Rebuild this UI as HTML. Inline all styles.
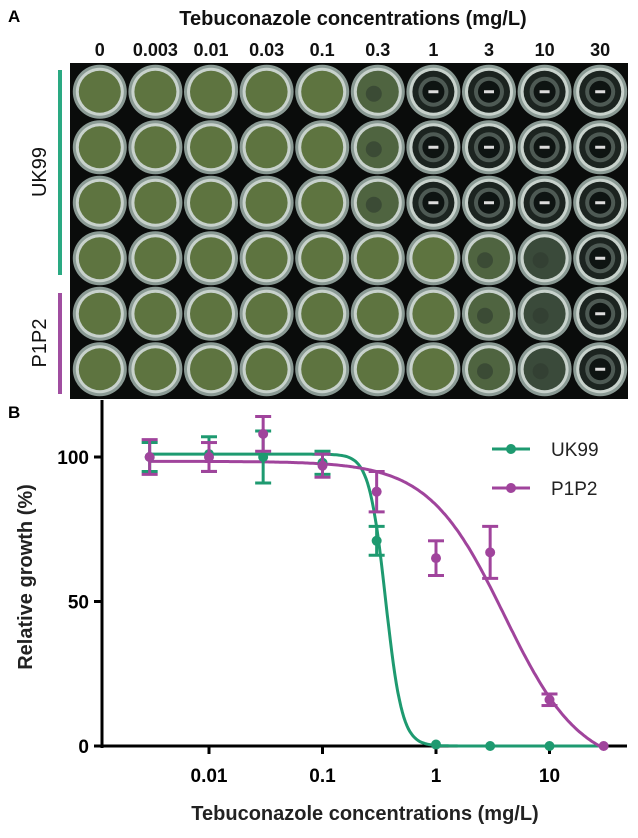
<!DOCTYPE html>
<html><head><meta charset="utf-8"><style>
html,body{margin:0;padding:0;background:#fff;}
svg{display:block;font-family:"Liberation Sans",Arial,sans-serif;}
</style></head><body>
<svg id="fig" width="638" height="838" viewBox="0 0 638 838" xmlns="http://www.w3.org/2000/svg">
<text x="8" y="22" font-size="17" font-weight="bold">A</text>
<text x="353" y="25" font-size="20" font-weight="bold" text-anchor="middle" fill="#111">Tebuconazole concentrations (mg/L)</text>
<g id="collabels"></g>
<rect x="70" y="63" width="558" height="336" fill="#0a0c0b"/>
<g id="wells"></g>
<rect x="58" y="70" width="4" height="205" fill="#2aa982"/>
<rect x="58" y="293" width="4" height="101" fill="#a04ea0"/>
<text transform="translate(46,172) rotate(-90)" font-size="20" text-anchor="middle" fill="#111">UK99</text>
<text transform="translate(46,343) rotate(-90)" font-size="20" text-anchor="middle" fill="#111">P1P2</text>

<text x="8" y="418" font-size="17" font-weight="bold">B</text>
<g id="chart"></g>
</svg>
<script>
const colLabels=["0","0.003","0.01","0.03","0.1","0.3","1","3","10","30"];
const uk99Growth=["g","g","g","g","g","m","c","c","c","c"];
const p1p2Growth=["g","g","g","g","g","g","g","m","p","c"];

const conc=[0.003,0.01,0.03,0.1,0.3,1,3,10,30];
const ukMean=[100,101,100,98,71,0.5,0,0];
const ukErr=[5,6,9,4,5,0,0,0];
const pMean=[100,100,108,97,88,65,67,16,0];
const pErr=[6,5,6,4,7,6,9,2,0];
const ukFit={top:101,bottom:0,ic50:0.36,hill:6};
const pFit={top:98.5,bottom:-8,ic50:4,hill:1.3};
const yTicks=[0,50,100];
const xTicks=[0.01,0.1,1,10];
const xTickLabels=["0.01","0.1","1","10"];

const NS="http://www.w3.org/2000/svg";
function mk(tag,attrs,parent){const e=document.createElementNS(NS,tag);for(const k in attrs)e.setAttribute(k,attrs[k]);parent.appendChild(e);return e;}

const cl=document.getElementById('collabels');
const wells=document.getElementById('wells');
const px0=72,pdx=55.6,py0=64,pdy=55.5;
colLabels.forEach((l,i)=>{const t=mk('text',{x:px0+pdx*(i+0.5),y:56,'font-size':18,'font-weight':'bold','text-anchor':'middle',fill:'#111'},cl);t.textContent=l;

});
const fills={g:'#5e7440',m:'#4f6440',p:'#3a4a3a',c:'#1c2420'};
for(let r=0;r<6;r++){const pat=r<3?uk99Growth:p1p2Growth;
 for(let c=0;c<10;c++){const cx=px0+pdx*(c+0.5),cy=py0+pdy*(r+0.5);
  const g=mk('g',{},wells);
  
  
  mk('circle',{cx,cy,r:27,fill:'#8a9a94'},g);
  mk('circle',{cx,cy,r:24,fill:'#c8d2cc'},g);
  const k=pat[c];
  mk('circle',{cx,cy,r:21,fill:fills[k]},g);
  if(k==='c'){mk('circle',{cx,cy,r:15,fill:'#7f8f88','fill-opacity':0.5},g);mk('circle',{cx,cy,r:11,fill:'#0e1412'},g);mk('rect',{x:cx-5,y:cy-1.5,width:10,height:3,fill:'#ddd'},g);}
  if(k==='m'||k==='p'){mk('circle',{cx:cx-4,cy:cy+2,r:8,fill:'#2f3a2e','fill-opacity':0.6},g);}
 }}

const ch=document.getElementById('chart');
const X0=102,Y0=746,yScale=2.89;
const xs=v=>436+113.5*Math.log10(v);
const ys=v=>Y0-yScale*v;
mk('line',{x1:X0,y1:400,x2:X0,y2:Y0+2,stroke:'#000','stroke-width':3},ch);
mk('line',{x1:X0-1,y1:Y0,x2:627,y2:Y0,stroke:'#000','stroke-width':3},ch);
yTicks.forEach(v=>{mk('line',{x1:X0-8,y1:ys(v),x2:X0,y2:ys(v),stroke:'#000','stroke-width':3},ch);
 const t=mk('text',{x:X0-13,y:ys(v)+7,'font-size':19,'font-weight':'bold','text-anchor':'end'},ch);t.textContent=v;
 
 });
xTicks.forEach((v,i)=>{mk('line',{x1:xs(v),y1:Y0,x2:xs(v),y2:Y0+8,stroke:'#000','stroke-width':3},ch);
 const t=mk('text',{x:xs(v),y:Y0+36,'font-size':19,'font-weight':'bold','text-anchor':'middle'},ch);t.textContent=xTickLabels[i];
 
 });
let t=mk('text',{x:365,y:820,'font-size':20,'font-weight':'bold','text-anchor':'middle',fill:'#222'},ch);t.textContent='Tebuconazole concentrations (mg/L)';

t=mk('text',{transform:'translate(32,577) rotate(-90)','font-size':20,'font-weight':'bold','text-anchor':'middle',fill:'#222'},ch);t.textContent='Relative growth (%)';


function fit(p,x){return p.bottom+(p.top-p.bottom)/(1+Math.pow(x/p.ic50,p.hill));}
function curve(p,col,name){let d='';for(let i=0;i<=300;i++){const lx=Math.log10(0.003)+i/300*(Math.log10(30)-Math.log10(0.003));const x=Math.pow(10,lx);let y=Math.max(0,fit(p,x));d+=(i?'L':'M')+xs(x).toFixed(1)+' '+ys(y).toFixed(1);}
 const e=mk('path',{d,fill:'none',stroke:col,'stroke-width':3},ch);}
function pts(means,errs,col,name){means.forEach((m,i)=>{const x=xs(conc[i]);const g=mk('g',{},ch);
 
 if(errs[i]>0){mk('line',{x1:x,y1:ys(m-errs[i]),x2:x,y2:ys(m+errs[i]),stroke:col,'stroke-width':3},g);
  [m-errs[i],m+errs[i]].forEach(v=>mk('line',{x1:x-8,y1:ys(v),x2:x+8,y2:ys(v),stroke:col,'stroke-width':3},g));}
 mk('circle',{cx:x,cy:ys(m),r:5,fill:col},g);});}
const GREEN='#1e9a70',PURPLE='#a0449c';
curve(ukFit,GREEN,'uk99-fit-curve');
curve(pFit,PURPLE,'p1p2-fit-curve');
pts(ukMean,ukErr,GREEN,'uk99-point');
pts(pMean,pErr,PURPLE,'p1p2-point');
[[GREEN,'UK99',449],[PURPLE,'P1P2',488]].forEach(([c,l,y])=>{const g=mk('g',{},ch);
 
 mk('line',{x1:492,y1:y,x2:530,y2:y,stroke:c,'stroke-width':3},g);mk('circle',{cx:511,cy:y,r:5,fill:c},g);
 const tt=mk('text',{x:551,y:y+7,'font-size':19,fill:'#222'},g);tt.textContent=l;});
</script>
</body></html>
